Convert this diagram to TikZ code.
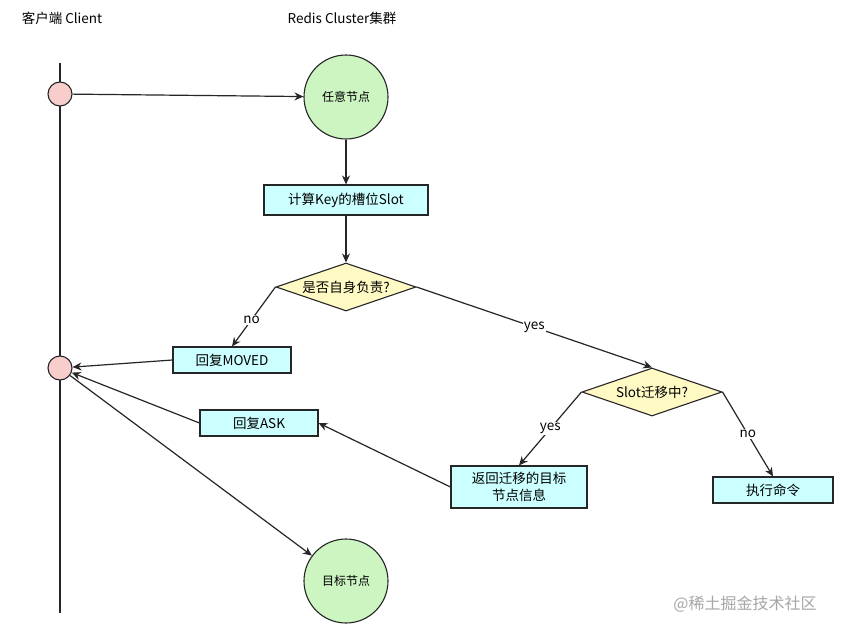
\documentclass[tikz,border=0pt]{standalone}
\usepackage{fontspec}
\setmainfont{Noto Sans CJK SC}
\usetikzlibrary{shapes.geometric,arrows.meta}
\definecolor{pinkf}{HTML}{F8CECC}
\definecolor{greenf}{HTML}{CCF5C2}
\definecolor{cyanf}{HTML}{CCFFFF}
\definecolor{yelf}{HTML}{FFF9C4}
\begin{document}
\begin{tikzpicture}[x=1pt,y=-1pt,
  every node/.style={font=\fontsize{13.5}{16}\selectfont},
  line/.style={draw=black!85,line width=1.2pt},
  arr/.style={line,-{Stealth[length=9pt,width=8pt]}},
  sc/.style={circle,draw=black!85,line width=1.1pt,fill=pinkf,minimum size=24pt,inner sep=0},
  bc/.style={circle,draw=black!85,line width=1.1pt,fill=greenf,minimum size=84pt,inner sep=0},
  box/.style={rectangle,draw=black!85,line width=1.1pt,fill=cyanf,inner sep=1pt,align=center},
  dia/.style={diamond,aspect=2.9,draw=black!85,line width=1.1pt,fill=yelf,inner sep=0,minimum width=140pt,minimum height=48pt}]
\fill[white] (0,0) rectangle (841,632);
\node (t1) at (62,18) {客户端 Client};
\node (t2) at (342,18) {Redis Cluster集群};
\coordinate (top) at (60,63);
\coordinate (bot) at (60,613);
\draw[line] (top) -- (bot);
\node[sc] (c1) at (60,94) {};
\node[sc] (c2) at (60,368) {};
\node[bc,font=\fontsize{12}{14}\selectfont] (any) at (346,97) {任意节点};
\node[bc,font=\fontsize{12}{14}\selectfont] (tgt) at (346,581) {目标节点};
\node[box,minimum width=164pt,minimum height=30pt] (calc) at (346,200) {计算Key的槽位Slot};
\node[dia] (d1) at (346,287) {是否自身负责?};
\node[box,minimum width=118pt,minimum height=26pt] (mv) at (232,360) {回复MOVED};
\node[box,minimum width=118pt,minimum height=26pt] (ask) at (259,423) {回复ASK};
\node[dia] (d2) at (652,392) {Slot迁移中?};
\node[box,minimum width=136pt,minimum height=42pt,font=\fontsize{13.5}{17}\selectfont] (ret) at (519,487) {返回迁移的目标\\节点信息};
\node[box,minimum width=120pt,minimum height=26pt] (ex) at (773,490) {执行命令};
\draw[arr] (c1) -- (any);
\draw[arr] (any) -- (calc);
\draw[arr] (calc) -- (d1);
\draw[arr] (d1.west) -- node[pos=0.55,fill=white,inner sep=1pt] {no} (mv.north);
\draw[arr] (d1.east) -- node[pos=0.5,fill=white,inner sep=1pt] {yes} (d2.north);
\draw[arr] (mv.west) -- (c2);
\draw[arr] (d2.west) -- node[pos=0.5,fill=white,inner sep=1pt] {yes} (ret.north);
\draw[arr] (d2.east) -- node[pos=0.5,fill=white,inner sep=1pt] {no} (ex.north);
\draw[arr] (ret.west) -- (ask.east);
\draw[arr] (ask.west) -- (c2);
\draw[arr] (c2) -- (tgt);
\node[text=black!35,font=\fontsize{16}{18}\selectfont] (wm) at (745,604) {@稀土掘金技术社区};
\end{tikzpicture}
\end{document}
